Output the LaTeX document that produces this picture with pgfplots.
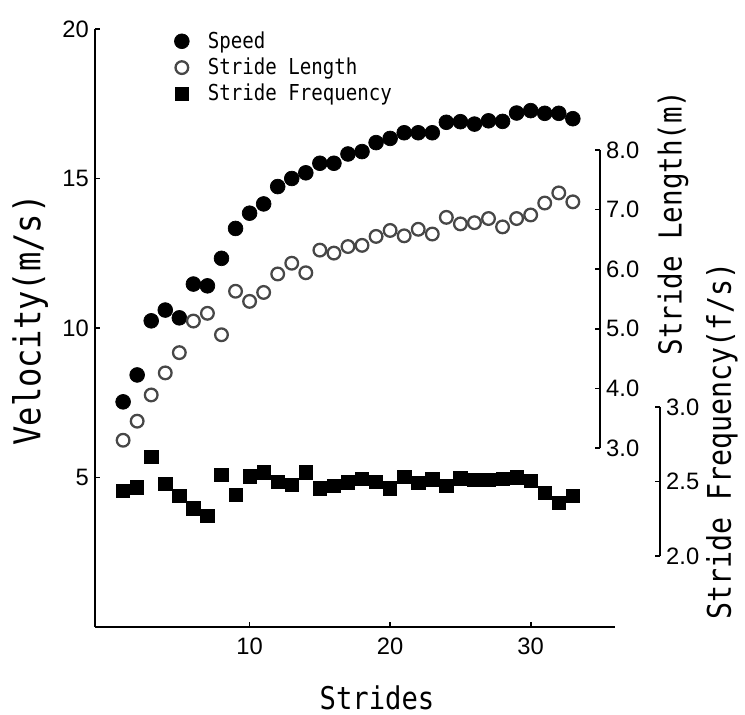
\documentclass[border=0pt]{standalone}
\usepackage{fontspec}
\setmainfont{Liberation Sans}
\newfontfamily\gothic[FakeStretch=0.87]{DejaVu Sans Mono}
\usepackage{pgfplots}
\pgfplotsset{compat=1.18}
\usepackage{pgfplotstable}

\pgfplotstableread{
s v
1 7.53
2 8.43
3 10.24
4 10.60
5 10.34
6 11.47
7 11.41
8 12.33
9 13.33
10 13.84
11 14.15
12 14.73
13 15.00
14 15.19
15 15.51
16 15.51
17 15.82
18 15.90
19 16.20
20 16.34
21 16.53
22 16.53
23 16.53
24 16.88
25 16.90
26 16.82
27 16.93
28 16.91
29 17.19
30 17.27
31 17.18
32 17.18
33 17.00
}\speed

\pgfplotstableread{
s L
1 3.13
2 3.45
3 3.89
4 4.26
5 4.60
6 5.13
7 5.26
8 4.90
9 5.63
10 5.46
11 5.61
12 5.92
13 6.10
14 5.94
15 6.32
16 6.27
17 6.38
18 6.40
19 6.55
20 6.65
21 6.56
22 6.67
23 6.59
24 6.87
25 6.76
26 6.78
27 6.85
28 6.71
29 6.85
30 6.91
31 7.11
32 7.28
33 7.13
}\slength

\pgfplotstableread{
s f
1 2.436
2 2.461
3 2.666
4 2.483
5 2.405
6 2.320
7 2.270
8 2.544
9 2.412
10 2.535
11 2.562
12 2.499
13 2.476
14 2.562
15 2.454
16 2.470
17 2.495
18 2.517
19 2.499
20 2.454
21 2.532
22 2.490
23 2.515
24 2.470
25 2.521
26 2.510
27 2.510
28 2.517
29 2.528
30 2.505
31 2.425
32 2.358
33 2.403
}\sfreq

\begin{document}
\begin{tikzpicture}
\useasboundingbox (0,0) rectangle (14.9,-14.3);
\pgfplotsset{common/.style={scale only axis, clip=false, tick align=inside,
  major tick length=0.1cm,
  every tick/.style={black, line width=1pt},
  axis line style={line width=1pt, black},
  tick label style={font=\fontsize{13.5}{16}\selectfont},
  /pgf/number format/assume math mode=true},
  spd/.style={only marks, mark=*, mark size=4.2pt, mark options={fill=black, draw=black}},
  sl/.style={only marks, mark=o, mark size=3.6pt, mark options={draw=black!72, line width=1.3pt}},
  sf/.style={only marks, mark=square*, mark size=3.8pt, mark options={fill=black, draw=black}}
}

\begin{axis}[common, at={(1.9cm,-12.54cm)}, anchor=south west,
  width=10.4cm, height=11.96cm,
  xmin=-1, xmax=36, ymin=0, ymax=20,
  axis x line*=bottom, axis y line*=left,
  xtick={10,20,30}, ytick={5,10,15,20},
  xticklabel style={yshift=-0.1cm},
  legend image code/.code={\path[draw=none] (0,0) -- (0.55cm,0); \draw[#1] plot coordinates {(0.1cm,0cm)};},
  legend style={at={(0.142,1.008)}, anchor=north west, draw=none, fill=none,
    font=\gothic\fontsize{12.5}{14}\selectfont, row sep=0pt},
  legend cell align=left]
\addlegendimage{spd}
\addlegendentry{Speed}
\addlegendimage{sl}
\addlegendentry{Stride Length}
\addlegendimage{sf}
\addlegendentry{Stride Frequency}
\addplot[spd] table[x=s, y=v] {\speed};
\end{axis}

\begin{axis}[common, at={(1.9cm,-8.96cm)}, anchor=south west,
  width=10.1cm, height=5.96cm,
  xmin=-1, xmax=34.933, ymin=3, ymax=8,
  hide x axis, axis y line*=right,
  ytick={3,4,5,6,7,8},
  yticklabel style={/pgf/number format/.cd, fixed, fixed zerofill, precision=1}]
\addplot[sl] table[x=s, y=L] {\slength};
\end{axis}

\begin{axis}[common, at={(1.9cm,-11.12cm)}, anchor=south west,
  width=11.3cm, height=2.98cm,
  xmin=-1, xmax=39.2, ymin=2, ymax=3,
  hide x axis, axis y line*=right,
  ytick={2,2.5,3},
  yticklabel style={/pgf/number format/.cd, fixed, fixed zerofill, precision=1}]
\addplot[sf] table[x=s, y=f] {\sfreq};
\end{axis}

\node[rotate=90, font=\gothic\fontsize{21}{22}\selectfont] at (0.6,-6.4) {Velocity(m/s)};
\node[font=\gothic\fontsize{17.8}{20}\selectfont] at (7.54,-13.96) {Strides};
\node[rotate=90, font=\gothic\fontsize{18}{20}\selectfont] at (13.46,-4.46) {Stride Length(m)};
\node[rotate=90, font=\gothic\fontsize{18.5}{20}\selectfont] at (14.44,-8.82) {Stride Frequency(f/s)};
\end{tikzpicture}
\end{document}
